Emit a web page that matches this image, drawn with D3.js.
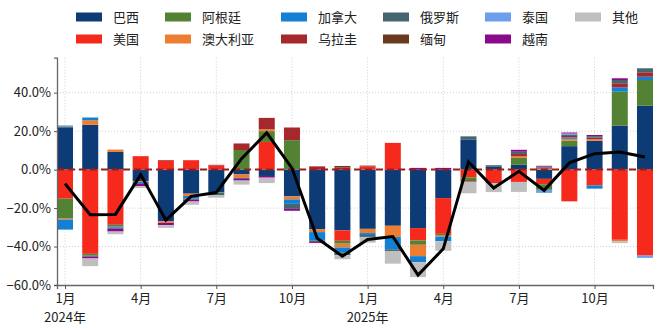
<!DOCTYPE html>
<html><head><meta charset="utf-8">
<script src="https://cdn.jsdelivr.net/npm/d3@7/dist/d3.min.js"></script>
<style>
body{margin:0;background:#fff;}
text{font-family:"Noto Sans CJK SC","Noto Sans",sans-serif;fill:#222;}
</style></head>
<body><svg id="c" width="660" height="331"></svg>
<script>
const months = d3.range(24);
const tickMonths = [0,3,6,9,12,15,18,21];
const tickLabels = ["1月","4月","7月","10月","1月","4月","7月","10月"];
const yearLabels = {0:"2024年",12:"2025年"};
const yTicks = [-60,-40,-20,0,20,40];

const seriesNames = ["巴西","美国","阿根廷","澳大利亚","加拿大","乌拉圭","俄罗斯","缅甸","泰国","越南","其他"];
const seriesColors = ["#0c3b76","#f52a1c","#548235","#ed7d31","#1380d3","#a6282c","#456570","#6b3a1e","#6d9eeb","#8b0a8b","#bfbfbf"];

const brazil    = [21.7, 23.3, 9.2, -5.9, -26.8, -12.5, -11.7, -2.5, -3.3, -13.9, -31.1, -31.6, -30.8, -29.2, -30.4, -14.8, 15.5, 1.7, 2.5, -4.8, 12.2, 15.0, 22.8, 33.2];
const usa       = [-15.1, -43.8, -28.7, 7.0, 4.5, 4.9, 2.1, 0, 14.4, 0, 0, -5.4, 1.6, 13.9, -6.4, -18.6, -4.0, -7.0, -6.4, -2.8, -16.5, -8.2, -36.5, -44.7];
const argentina = [-10.4, -0.9, -0.9, 0, 0, 0, -0.3, 10.2, 5.6, 15.3, 0, -1.5, 0, 0, -2.3, -0.6, -1.5, 0, 3.6, -2.9, 2.8, 0, 17.7, 13.4];
const australia = [-0.5, 2.4, 1.2, -0.5, -0.9, -1.2, 0, -1.8, 1.0, -1.6, -1.4, -2.0, -2.2, -5.9, -5.9, -0.8, 0, 0, 0.8, 0.5, 1.0, 0.8, -0.7, 0];
const canada    = [-5.2, 1.4, -0.6, -0.5, 0, -1.4, 0, 0, 0, -2.3, -4.3, -2.5, -1.0, -6.3, -3.1, -2.4, 0, 0, 0, 0, 0.8, -1.7, 2.3, 1.7];
const uruguay   = [0, 0, 0, 0, 0.4, 0, 0.4, 3.4, 5.9, 6.6, 1.7, 1.2, 0.5, 0, 0, 0, 0, 0, 1.2, 0.5, 0.7, 0.8, 2.1, 2.3];
const russia    = [0.8, -0.5, -0.5, -0.5, 0, -0.5, -1.4, -0.5, 0, -2.6, -0.9, -1.5, -1.0, -0.9, 0, 0, 1.8, 0.6, 1.2, 0.6, 0.8, 0.8, 1.7, 2.1];
const myanmar   = [0, 0, 0, 0, 0, 0, 0, 0, 0, 0, 0, 0.7, 0, 0, 0, 0, -0.8, 0, 0, 0, 0, 0, 0, 0];
const thailand  = [0.5, 0, 0, 0, 0, 0, 0, 0, 0, 0, 0, 0, 0, 0, 0, 0, 0, 0, 0, -1.6, 0.5, 0, 0, -1.2];
const vietnam   = [0, -1.0, -1.5, -1.2, -1.2, -1.0, 0, -0.9, -0.9, -1.0, -0.5, 0, 0, 0, 0.9, 0.9, 0, 0, 1.0, 0.4, 0.5, 0.6, 0.9, 0];
const other     = [0, -4.0, -1.4, -1.0, -1.4, -1.7, -1.2, -2.1, -2.8, 0, 0, -2.1, -3.0, -6.6, -7.8, -5.0, -6.0, -4.7, -5.2, 0, 0, 0, -1.0, 0];
const total     = [-7.3, -23.5, -23.3, -2.6, -26.3, -13.9, -11.9, 5.7, 19.1, 0.8, -35.7, -45.0, -36.3, -34.8, -54.8, -41.2, 4.0, -9.6, -0.9, -10.8, 3.5, 8.3, 9.2, 6.6];

const seriesValues = [brazil, usa, argentina, australia, canada, uruguay, russia, myanmar, thailand, vietnam, other];

const table = months.map(i => {
  const r = {m: i};
  seriesNames.forEach((n, k) => r[n] = seriesValues[k][i]);
  return r;
});

const svg = d3.select("#c");
const L = 57, R = 653, T = 57.7, B = 285;

const x = d3.scaleBand().domain(months).range([L, R]).paddingInner(0.365).paddingOuter(0);
const y = d3.scaleLinear().domain([-60, 58.2]).range([B, T]);
const cx = i => x(i) + x.bandwidth() / 2;

// grid
const grid = svg.append("g");
grid.selectAll("line.h").data(yTicks.filter(v => v > -60)).join("line")
  .attr("x1", L).attr("x2", R).attr("y1", d => y(d)).attr("y2", d => y(d))
  .attr("stroke", "#cfcfcf").attr("stroke-width", 1).attr("stroke-dasharray", "1,2");
grid.selectAll("line.v").data(tickMonths).join("line")
  .attr("x1", d => cx(d)).attr("x2", d => cx(d)).attr("y1", T).attr("y2", B)
  .attr("stroke", "#cfcfcf").attr("stroke-width", 1).attr("stroke-dasharray", "1,2");

// stacks
const stack = d3.stack().keys(seriesNames).offset(d3.stackOffsetDiverging);
const layers = stack(table);
svg.append("g").selectAll("g").data(layers).join("g")
  .attr("fill", (d, k) => seriesColors[k])
  .selectAll("rect").data(d => d).join("rect")
  .attr("x", d => x(d.data.m))
  .attr("width", x.bandwidth())
  .attr("y", d => y(Math.max(d[0], d[1])))
  .attr("height", d => Math.abs(y(d[0]) - y(d[1])));

// zero line
svg.append("line").attr("x1", L).attr("x2", R).attr("y1", y(0)).attr("y2", y(0))
  .attr("stroke", "#9b1c1c").attr("stroke-width", 2).attr("stroke-dasharray", "7,4");

// total line
svg.append("path").datum(total)
  .attr("d", d3.line().x((d, i) => cx(i)).y(d => y(d)))
  .attr("fill", "none").attr("stroke", "#000").attr("stroke-width", 3).attr("stroke-linejoin", "miter");

// axes
const ya = svg.append("g").attr("transform", `translate(${L},0)`)
  .call(d3.axisLeft(y).tickValues(yTicks).tickSize(3).tickPadding(3).tickFormat(d => d3.format(".1f")(d) + "%"));
ya.select(".domain").attr("stroke", "#666").attr("stroke-width", 1.3);
ya.selectAll(".tick line").attr("stroke", "#555");
ya.selectAll("text").attr("font-size", 13).attr("font-family", "'Noto Sans CJK SC',sans-serif").attr("fill", "#222");

const xa = svg.append("g").attr("transform", `translate(0,${B})`)
  .call(d3.axisBottom(d3.scaleLinear().domain([L, R]).range([L, R])).tickValues(tickMonths.map(cx)).tickSize(4).tickPadding(5).tickFormat((d, i) => tickLabels[i]));
xa.select(".domain").attr("stroke", "#666").attr("stroke-width", 1.3);
xa.selectAll(".tick line").attr("stroke", "#555");
xa.selectAll("text").attr("font-size", 13).attr("font-family", "'Noto Sans CJK SC',sans-serif").attr("fill", "#222");
svg.append("g").selectAll("text").data(Object.keys(yearLabels)).join("text")
  .attr("x", d => cx(+d)).attr("y", 322).attr("text-anchor", "middle")
  .attr("font-size", 13).text(d => yearLabels[d]);

// legend (6 columns, column-major)
const colX = [76, 165, 281, 383, 485, 575];
const rowY = [17, 39];
const lg = svg.append("g");
seriesNames.forEach((n, k) => {
  const c = Math.floor(k / 2), r = k % 2;
  lg.append("rect").attr("x", colX[c]).attr("y", rowY[r] - 4.5).attr("width", 26).attr("height", 9).attr("fill", seriesColors[k]);
  lg.append("text").attr("x", colX[c] + 37).attr("y", rowY[r]).attr("dy", "0.35em").attr("font-size", 13).text(n);
});
</script></body></html>
